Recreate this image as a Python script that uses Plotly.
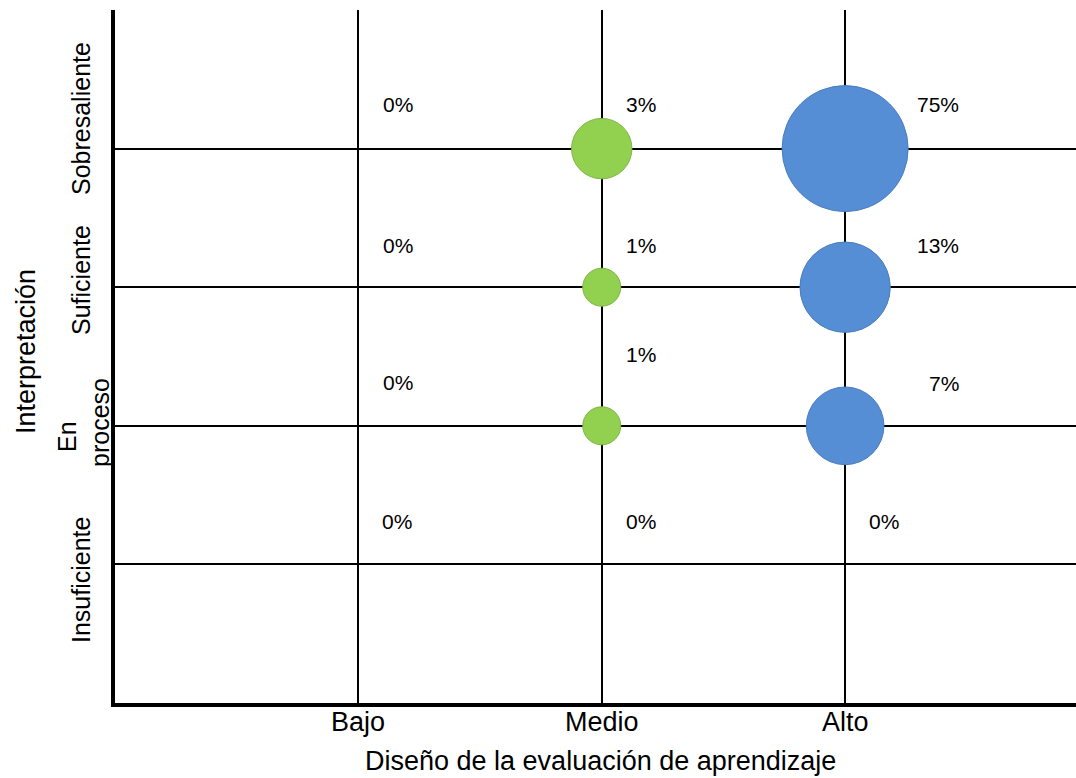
import math
import plotly.graph_objects as go

# Categories
diseno = ["Bajo", "Medio", "Alto"]
interpretacion = ["Insuficiente", "En proceso", "Suficiente", "Sobresaliente"]

# Percentage of students per (diseño, interpretación), listed in interpretacion order
pct_bajo = [0, 0, 0, 0]
pct_medio = [0, 1, 1, 3]
pct_alto = [0, 7, 13, 75]

series = [
    ("Bajo", pct_bajo, "#A5A5A5", "#8C8C8C"),
    ("Medio", pct_medio, "#92D050", "#7FB644"),
    ("Alto", pct_alto, "#558ED5", "#4A7DBE"),
]

# Label offsets (px) from each bubble centre, in interpretacion order
label_shift = {
    "Bajo": [(39, 43), (40, 43), (40, 42), (40, 44)],
    "Medio": [(39, 43), (39, 71), (39, 42), (39, 44)],
    "Alto": [(39, 43), (99, 42), (93, 42), (93, 44)],
}

FONT = "Liberation Sans, Arial, sans-serif"
BLACK = "#000000"


def bubble_diameter(v):
    # logarithmic scaling keeps the small shares visible next to the large one
    return 38 + 20.4 * math.log(v)


fig = go.Figure()
annotations = []

for name, vals, fill, edge in series:
    xi = diseno.index(name) + 1
    xs, ys, sizes = [], [], []
    for j, v in enumerate(vals):
        yj = j + 1
        if v > 0:
            xs.append(xi)
            ys.append(yj)
            sizes.append(bubble_diameter(v))
        dx, dy = label_shift[name][j]
        annotations.append(dict(
            x=xi, y=yj, xref="x", yref="y", text=f"{v}%", showarrow=False,
            xshift=dx, yshift=dy, font=dict(family=FONT, size=21, color=BLACK),
        ))
    if xs:
        fig.add_trace(go.Scatter(
            x=xs, y=ys, mode="markers", name=name, hoverinfo="skip",
            marker=dict(size=sizes, sizemode="diameter", color=fill, opacity=1,
                        line=dict(color=edge, width=1)),
        ))

# Plot area geometry in px, used to place the axis texts
L, W = 115, 961
T, H = 10, 693


def px_x(p):
    return (p - L) / W


def px_y(p):
    return 1 - (p - T) / H


ylabels = [
    ("Sobresaliente", 81, 119),
    ("Suficiente", 81, 280),
    ("En", 67, 437),
    ("proceso", 100, 423),
    ("Insuficiente", 81, 580),
]
for txt, px, py in ylabels:
    annotations.append(dict(
        x=px_x(px), y=px_y(py), xref="paper", yref="paper", text=txt,
        textangle=-90, showarrow=False, xanchor="center", yanchor="middle",
        font=dict(family=FONT, size=25, color=BLACK),
    ))

# Category labels under the x axis
for i, txt in enumerate(diseno):
    annotations.append(dict(
        x=i + 1, y=px_y(722), xref="x", yref="paper", text=txt,
        showarrow=False, xanchor="center", yanchor="middle",
        font=dict(family=FONT, size=27, color=BLACK),
    ))

annotations.append(dict(
    x=px_x(600), y=px_y(761), xref="paper", yref="paper",
    text="Diseño de la evaluación de aprendizaje",
    showarrow=False, xanchor="center", yanchor="middle",
    font=dict(family=FONT, size=27, color=BLACK),
))

annotations.append(dict(
    x=px_x(26), y=px_y(352), xref="paper", yref="paper", text="Interpretación",
    textangle=-90, showarrow=False, xanchor="center", yanchor="middle",
    font=dict(family=FONT, size=27, color=BLACK),
))

fig.update_layout(
    width=1076, height=778,
    margin=dict(l=L, r=0, t=T, b=778 - T - H),
    paper_bgcolor="white", plot_bgcolor="white",
    showlegend=False,
    font=dict(family=FONT, size=25, color=BLACK),
    annotations=annotations,
    xaxis=dict(
        range=[0, (W + 0.5) / 243.5], tickvals=[1, 2, 3], showticklabels=False,
        showgrid=True, gridcolor=BLACK, gridwidth=2,
        showline=True, linecolor=BLACK, linewidth=4,
        zeroline=False, ticks="", fixedrange=True,
    ),
    yaxis=dict(
        range=[0, 5], tickvals=[1, 2, 3, 4], showticklabels=False,
        showgrid=True, gridcolor=BLACK, gridwidth=2,
        showline=True, linecolor=BLACK, linewidth=4,
        zeroline=False, ticks="", fixedrange=True,
    ),
)

fig.write_html("out.html")
